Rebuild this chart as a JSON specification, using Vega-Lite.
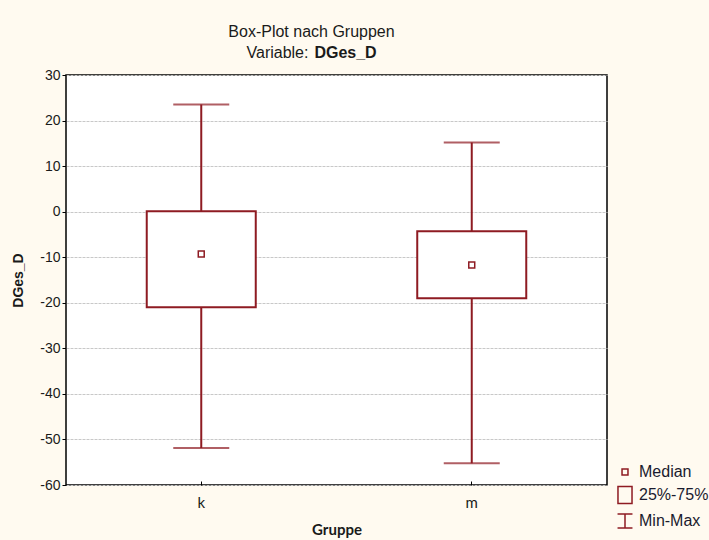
{
  "$schema": "https://vega.github.io/schema/vega-lite/v6.json",
  "autosize": {"type": "none"},
  "padding": {"left": 66, "top": 75, "right": 102, "bottom": 55},
  "width": 541,
  "height": 410,
  "background": "#FFFAF0",
  "title": {
    "text": "Box-Plot nach Gruppen",
    "font": "Liberation Sans",
    "fontSize": 16,
    "fontWeight": "normal",
    "color": "#1a1a1a",
    "anchor": "middle",
    "dx": -25,
    "offset": 4
  },
  "config": {
    "view": {"fill": "white", "stroke": "black", "strokeWidth": 1.5},
    "axisY": {
      "domain": false,
      "grid": true,
      "gridColor": "#c8c8c8",
      "gridDash": [3, 1],
      "gridWidth": 1,
      "tickColor": "black",
      "tickSize": 4,
      "labelFont": "Liberation Sans",
      "labelFontSize": 14,
      "labelColor": "#1a1a1a",
      "labelPadding": 2,
      "titleFont": "Liberation Sans",
      "titleFontSize": 14,
      "titleFontWeight": "bold",
      "titleColor": "#1a1a1a",
      "titlePadding": 14
    },
    "axisX": {
      "domain": false,
      "grid": false,
      "tickColor": "black",
      "tickSize": -4,
      "labelAngle": 0,
      "labelFont": "Lato",
      "labelFontSize": 15,
      "labelColor": "#1a1a1a",
      "labelPadding": 14,
      "titleFont": "Lato",
      "titleFontSize": 15,
      "titleFontWeight": "bold",
      "titleColor": "#1a1a1a",
      "titlePadding": 12
    }
  },
  "data": {
    "values": [
      {"Gruppe": "k", "min": -51.9, "q1": -21.0, "median": -9.3, "q3": 0.1, "max": 23.5},
      {"Gruppe": "m", "min": -55.2, "q1": -19.0, "median": -11.7, "q3": -4.3, "max": 15.2}
    ]
  },
  "resolve": {"axis": {"x": "independent", "y": "independent"}},
  "encoding": {
    "x": {
      "field": "Gruppe",
      "type": "nominal",
      "title": "Gruppe",
      "scale": {"type": "band", "paddingInner": 0.597, "paddingOuter": 0.2985},
      "axis": null
    }
  },
  "layer": [
    {
      "mark": {"type": "rule", "color": "#8E1B22", "strokeWidth": 2},
      "encoding": {
        "x": {
          "field": "Gruppe",
          "type": "nominal",
          "title": "Gruppe",
          "scale": {"type": "band", "paddingInner": 0.597, "paddingOuter": 0.2985},
          "axis": {"orient": "bottom"}
        },
        "y": {
          "field": "min",
          "type": "quantitative",
          "title": "DGes_D",
          "scale": {"domain": [-60, 30], "nice": false, "zero": false},
          "axis": {
            "orient": "left",
            "values": [-60, -50, -40, -30, -20, -10, 0, 10, 20, 30],
            "labelExpr": "'' + datum.value"
          }
        },
        "y2": {"field": "max"}
      }
    },
    {
      "mark": {"type": "bar", "fill": "white", "stroke": "#8E1B22", "strokeWidth": 2},
      "encoding": {
        "y": {"field": "q1", "type": "quantitative", "title": "DGes_D", "axis": null},
        "y2": {"field": "q3"}
      }
    },
    {
      "mark": {"type": "tick", "color": "#8E1B22", "size": 56, "thickness": 2},
      "encoding": {
        "y": {"field": "min", "type": "quantitative", "title": "DGes_D", "axis": null}
      }
    },
    {
      "mark": {"type": "tick", "color": "#8E1B22", "size": 56, "thickness": 2},
      "encoding": {
        "y": {"field": "max", "type": "quantitative", "title": "DGes_D", "axis": null}
      }
    },
    {
      "mark": {"type": "point", "filled": false, "stroke": "#8E1B22", "strokeWidth": 1.5, "size": 324, "opacity": 1},
      "encoding": {
        "x": {
          "field": "Gruppe",
          "type": "nominal",
          "title": "DGes_D",
          "scale": {"type": "band", "paddingInner": 0.597, "paddingOuter": 0.2985},
          "axis": {
            "orient": "top",
            "labels": false,
            "ticks": false,
            "domain": false,
            "grid": false,
            "title": "DGes_D",
            "titleFont": "Liberation Sans",
            "titleFontSize": 16,
            "titleFontWeight": "bold",
            "titleColor": "#1a1a1a",
            "titleAlign": "center",
            "titleBaseline": "middle",
            "titleAngle": 0,
            "titleX": 279,
            "titleY": -23
          }
        },
        "y": {
          "field": "median",
          "type": "quantitative",
          "title": "Variable:",
          "axis": {
            "orient": "right",
            "labels": false,
            "ticks": false,
            "domain": false,
            "grid": false,
            "title": "Variable:",
            "titleFont": "Liberation Sans",
            "titleFontSize": 16,
            "titleFontWeight": "normal",
            "titleColor": "#1a1a1a",
            "titleAlign": "left",
            "titleBaseline": "middle",
            "titleAngle": 0,
            "titleX": -361,
            "titleY": -23
          }
        },
        "shape": {
          "datum": "Median",
          "scale": {
            "domain": ["Median", "25%-75%", "Min-Max"],
            "range": [
              "M-0.33,-0.33H0.33V0.33H-0.33Z",
              "M-0.78,-0.94H0.78V0.94H-0.78Z",
              "M-0.83,-0.78H0.83M0,-0.78V0.78M-0.83,0.78H0.83"
            ]
          },
          "legend": {
            "orient": "none",
            "legendX": 549,
            "legendY": 387,
            "title": null,
            "padding": 0,
            "symbolSize": 324,
            "symbolStrokeColor": "#8E1B22",
            "symbolFillColor": "transparent",
            "symbolStrokeWidth": 1.5,
            "symbolOpacity": 1,
            "labelFont": "Liberation Sans",
            "labelFontSize": 16,
            "labelColor": "#1a1a2e",
            "labelOffset": 4,
            "rowPadding": 3
          }
        }
      }
    }
  ]
}
